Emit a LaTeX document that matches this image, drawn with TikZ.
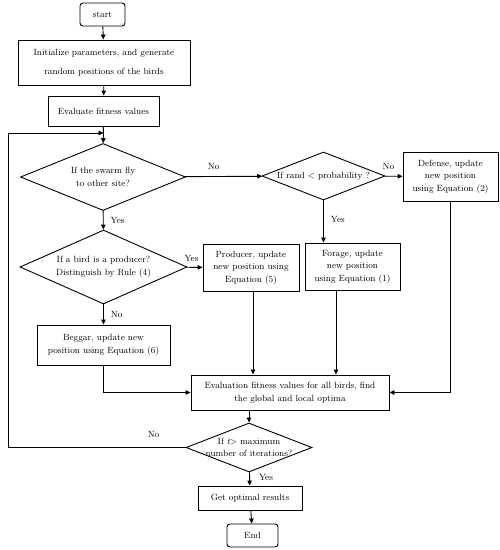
\documentclass[tikz,border=0pt]{standalone}
\usetikzlibrary{shapes.geometric,arrows.meta}
\begin{document}
\begin{tikzpicture}[x=1pt,y=-1pt,
  every node/.style={font=\fontsize{9}{12.5}\selectfont},
  box/.style={draw,line width=0.9pt,align=center,inner sep=1pt},
  term/.style={box,rounded corners=3pt},
  dec/.style={draw,line width=0.9pt,diamond,inner sep=0pt},
  dtext/.style={align=center,inner sep=0pt},
  conn/.style={line width=0.9pt},
  arr/.style={conn,-{Triangle[length=5pt,width=4.5pt]}},
  lab/.style={font=\fontsize{9}{10}\selectfont,inner sep=1pt}]
\useasboundingbox (0,0) rectangle (500,550);
\node[term,minimum width=45,minimum height=23] (start) at (102.5,14.5) {start};
\node[box,minimum width=172,minimum height=45] (init) at (104,62.5) {Initialize parameters, and generate\\[6pt]random positions of the birds};
\node[box,minimum width=111,minimum height=30] (evalf) at (103.5,111) {Evaluate fitness values};
\node[dec,minimum width=165,minimum height=67,label={[dtext]center:If the swarm fly\\to other site?}] (d1) at (103,177) {};
\node[dec,minimum width=123,minimum height=48,label={[dtext]center:If rand {\textless} probability ?}] (d2) at (323.5,176) {};
\node[box,minimum width=95,minimum height=49] (def) at (450.5,176.5) {Defense, update\\new position\\using Equation (2)};
\node[dec,minimum width=167,minimum height=74,label={[dtext]center:If a bird is a producer?\\Distinguish by Rule (4)}] (d3) at (103.5,267) {};
\node[box,minimum width=96,minimum height=47] (prod) at (251,267.5) {Producer, update\\new position using\\Equation (5)};
\node[box,minimum width=95,minimum height=47] (forage) at (352.5,266.5) {Forage, update\\new position\\using Equation (1)};
\node[box,minimum width=133,minimum height=40] (beggar) at (103.5,345) {Beggar, update new\\position using Equation (6)};
\node[box,minimum width=198,minimum height=35] (eval) at (290,392.5) {Evaluation fitness values for all birds, find\\the global and local optima};
\node[dec,minimum width=126,minimum height=49,label={[dtext]center:If \textit{t}\kern-0.5pt> maximum\\number of iterations?}] (d4) at (249,447.5) {};
\node[box,minimum width=104,minimum height=24] (get) at (250,498) {Get optimal results};
\node[term,minimum width=51,minimum height=23] (end) at (252.5,535.5) {End};

\draw[arr] (start) -- (init);
\draw[arr] (init) -- (evalf);
\draw[arr] (evalf) -- (d1);
\draw[arr] (d1) -- node[lab,pos=0.37,above=5pt]{No} (d2);
\draw[arr] (d2) -- node[lab,pos=0.2,above=5pt]{No} (def);
\draw[arr] (d2.south) -- node[lab,right=6pt,pos=0.45]{Yes} (d2.south |- forage.north);
\draw[arr] (d1) -- node[lab,right=6pt]{Yes} (d3);
\draw[arr] (d3) -- node[lab,above=4pt,pos=0.3]{Yes} (prod);
\draw[arr] (d3) -- node[lab,right=6pt]{No} (beggar);
\draw[arr] (beggar.south) |- (eval.west);
\draw[arr] (prod.south -| 253,0) -- (eval.north -| 253,0);
\draw[arr] (forage.south -| 336,0) -- (eval.north -| 336,0);
\draw[arr] (def.south) |- (eval.east);
\draw[arr] (eval.south -| d4.north) -- (d4.north);
\coordinate (loopin) at (evalf.south |- 0,133);
\coordinate (lc) at (8,447.5);
\draw[arr] (d4.west) -- node[lab,pos=0.18,above=8pt]{No} (lc) |- (loopin);
\draw[arr] (d4) -- node[lab,right=8pt,pos=0.4]{Yes} (get);
\draw[arr] (get) -- (end);
\end{tikzpicture}
\end{document}
